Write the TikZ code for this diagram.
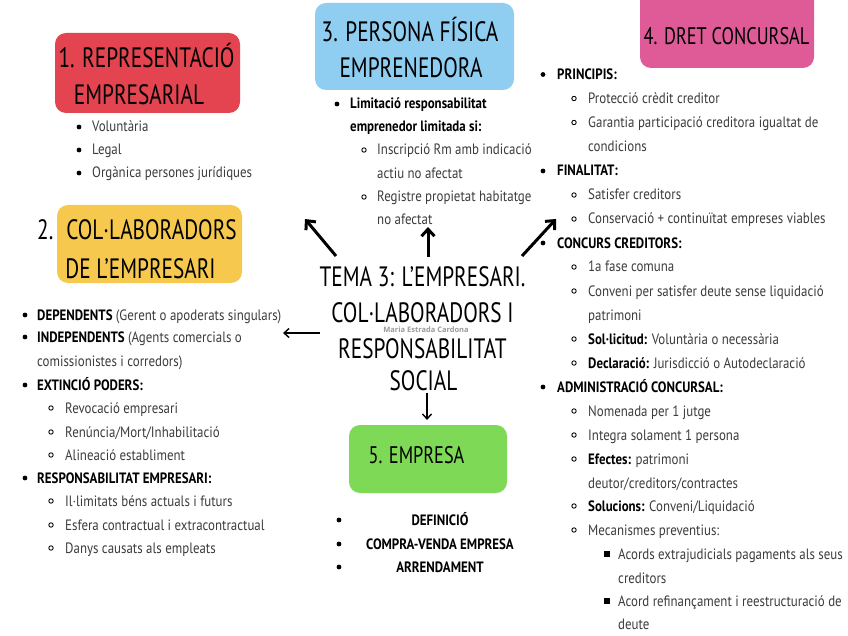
\documentclass[tikz,border=0pt]{standalone}
\usepackage{fontspec}
\setmainfont{PT Sans}[FakeStretch=0.86]
\newfontfamily\headfont{PT Sans}[FakeStretch=0.76]
\newfontfamily\markfont{Open Sans}
\usetikzlibrary{arrows.meta}
\definecolor{boxred}{HTML}{E3444F}
\definecolor{boxblue}{HTML}{8FCDF1}
\definecolor{boxpink}{HTML}{DE5B97}
\definecolor{boxyellow}{HTML}{F6C94E}
\definecolor{boxgreen}{HTML}{7ED957}
\definecolor{bodygray}{HTML}{3C3C3C}
\definecolor{markgray}{HTML}{9A9A9A}
\tikzset{
  body/.style={anchor=base west, inner sep=0pt, text=bodygray, font=\fontsize{15}{18}\selectfont},
  bold/.style={anchor=base west, inner sep=0pt, text=black, font=\bfseries\fontsize{15}{18}\selectfont},
  centeritem/.style={anchor=base, inner sep=0pt, text=black, font=\bfseries\fontsize{15}{18}\selectfont},
  hdbig/.style={anchor=base, inner sep=0pt, text=black, font=\headfont\fontsize{28}{30}\selectfont},
  hdsmall/.style={anchor=base, inner sep=0pt, text=black, font=\headfont\fontsize{24}{26}\selectfont},
  colbox/.style={rounded corners=11pt},
  bigarrow/.style={line width=3pt, -{Straight Barb[length=7pt,width=13pt,line width=3pt]}},
  smallarrow/.style={line width=1.4pt, -{Straight Barb[length=5pt,width=9pt,line width=1.4pt]}},
}
\newcommand\BulA[2]{\fill[black] (#1,#2-5) circle (2.4pt);}
\newcommand\BulB[2]{\draw[black, line width=0.9pt] (#1,#2-5) circle (2.2pt);}
\newcommand\BulC[2]{\fill[black] (#1-2.6,#2-7.6) rectangle (#1+2.6,#2-2.4);}
\newcommand\TL[4]{\node[body] (#1) at (#2,#3) {#4};}
\newcommand\TB[4]{\node[bold] (#1) at (#2,#3) {#4};}
\begin{document}
\begin{tikzpicture}[x=1pt,y=-1pt]
\useasboundingbox (0,0) rectangle (848,636);
\fill[white] (0,0) rectangle (848,636);

% coloured boxes
\fill[boxred, colbox] (55,33) rectangle (240,113);
\fill[boxblue, colbox] (315,3) rectangle (514,90);
\fill[boxpink, colbox] (640,-12) rectangle (814,68);
\fill[boxyellow, colbox] (57,205) rectangle (242,283);
\fill[boxgreen, colbox] (349,425) rectangle (507,493);

% headings
\node[hdbig] (h1a) at (146.5,68) {1. REPRESENTACIÓ};
\node[hdbig] (h1b) at (139,105) {EMPRESARIAL};
\node[hdbig] (h3a) at (410,42) {3. PERSONA FÍSICA};
\node[hdbig] (h3b) at (411,78) {EMPRENEDORA};
\node[hdsmall] (h4) at (726.5,45) {4. DRET CONCURSAL};
\node[hdbig, anchor=base west] (h2n) at (37,240) {2.};
\node[hdbig] (h2a) at (151.5,240) {COL·LABORADORS};
\node[hdbig] (h2b) at (140.5,278) {DE L’EMPRESARI};
\node[hdsmall] (h5) at (416.5,463) {5. EMPRESA};

% central title
\node[hdbig] (c1) at (422.5,287) {TEMA 3: L’EMPRESARI.};
\node[hdbig] (c2) at (422.5,322) {COL·LABORADORS I};
\node[anchor=base, inner sep=0pt, text=markgray, font=\markfont\bfseries\fontsize{7.5}{8}\selectfont] (mark) at (426,332.5) {Maria Estrada Cardona};
\node[hdbig] (c3) at (422.5,358) {RESPONSABILITAT};
\node[hdbig] (c4) at (423.5,390) {SOCIAL};

% arrows
\coordinate (aulS) at (336,256); \coordinate (aulE) at (305,219);
\coordinate (aupS) at (428,257); \coordinate (aupE) at (428,227);
\coordinate (aurS) at (522,256); \coordinate (aurE) at (556,219);
\coordinate (alfS) at (320,333); \coordinate (alfE) at (283,333);
\coordinate (adnS) at (427,393); \coordinate (adnE) at (427,420);
\draw[bigarrow] (aulS) -- (aulE);
\draw[bigarrow] (aupS) -- (aupE);
\draw[bigarrow] (aurS) -- (aurE);
\draw[smallarrow] (alfS) -- (alfE);
\draw[smallarrow] (adnS) -- (adnE);

% list 1
\BulA{79}{132} \TL{r1}{92}{132}{Voluntària}
\BulA{79}{155} \TL{r2}{92}{155}{Legal}
\BulA{79}{178} \TL{r3}{92}{178}{Orgànica persones jurídiques}

% list 3
\BulA{337}{109} \TB{p1}{350}{109}{Limitació responsabilitat}
\TB{p2}{350}{132}{emprenedor limitada si:}
\BulB{364}{155} \TL{p3}{377}{155}{Inscripció Rm amb indicació}
\TL{p4}{377}{179}{actiu no afectat}
\BulB{364}{202} \TL{p5}{377}{202}{Registre propietat habitatge}
\TL{p6}{377}{225}{no afectat}

% list 2
\BulA{25}{320} \node[bold] (k1) at (37,320) {DEPENDENTS \mdseries\color{bodygray}(Gerent o apoderats singulars)};
\BulA{25}{342} \node[bold] (k2) at (37,342) {INDEPENDENTS \mdseries\color{bodygray}(Agents comercials o};
\TL{k3}{37}{366}{comissionistes i corredors)}
\BulA{25}{390} \TB{k4}{37}{390}{EXTINCIÓ PODERS:}
\BulB{51}{413} \TL{k5}{65}{413}{Revocació empresari}
\BulB{51}{437} \TL{k6}{65}{437}{Renúncia/Mort/Inhabilitació}
\BulB{51}{460} \TL{k7}{65}{460}{Alineació establiment}
\BulA{25}{483} \TB{k8}{37}{483}{RESPONSABILITAT EMPRESARI:}
\BulB{51}{506} \TL{k9}{65}{506}{Il·limitats béns actuals i futurs}
\BulB{51}{530} \TL{k10}{65}{530}{Esfera contractual i extracontractual}
\BulB{51}{553} \TL{k11}{65}{553}{Danys causats als empleats}

% list 5
\BulA{339}{525} \node[centeritem] (e1) at (440,525) {DEFINICIÓ};
\BulA{339}{549} \node[centeritem] (e2) at (440,549) {COMPRA-VENDA EMPRESA};
\BulA{339}{572} \node[centeritem] (e3) at (440,572) {ARRENDAMENT};

% list 4
\BulA{543}{79.5} \TB{d1}{557}{79.5}{PRINCIPIS:}
\BulB{574}{103.5} \TL{d2}{588}{103.5}{Protecció crèdit creditor}
\BulB{574}{127.5} \TL{d3}{588}{127.5}{Garantia participació creditora igualtat de}
\TL{d4}{588}{151.5}{condicions}
\BulA{543}{176} \TB{d5}{557}{176}{FINALITAT:}
\BulB{574}{200} \TL{d6}{588}{200}{Satisfer creditors}
\BulB{574}{224} \TL{d7}{588}{224}{Conservació + continuïtat empreses viables}
\BulA{543}{248} \TB{d8}{557}{248}{CONCURS CREDITORS:}
\BulB{574}{272} \TL{d9}{588}{272}{1a fase comuna}
\BulB{574}{296} \TL{d10}{588}{296}{Conveni per satisfer deute sense liquidació}
\TL{d11}{588}{320}{patrimoni}
\BulB{574}{344} \node[body] (d12) at (588,344) {{\bfseries\color{black}Sol·licitud:} Voluntària o necessària};
\BulB{574}{368} \node[body] (d13) at (588,368) {{\bfseries\color{black}Declaració:} Jurisdicció o Autodeclaració};
\BulA{543}{392} \TB{d14}{557}{392}{ADMINISTRACIÓ CONCURSAL:}
\BulB{574}{416} \TL{d15}{588}{416}{Nomenada per 1 jutge}
\BulB{574}{440} \TL{d16}{588}{440}{Integra solament 1 persona}
\BulB{574}{464} \node[body] (d17) at (588,464) {{\bfseries\color{black}Efectes:} patrimoni};
\TL{d18}{588}{488}{deutor/creditors/contractes}
\BulB{574}{511} \node[body] (d19) at (588,511) {{\bfseries\color{black}Solucions:} Conveni/Liquidació};
\BulB{574}{535} \TL{d20}{588}{535}{Mecanismes preventius:}
\BulC{607}{559} \TL{d21}{618}{559}{Acords extrajudicials pagaments als seus}
\TL{d22}{618}{583}{creditors}
\BulC{607}{606} \TL{d23}{618}{606}{Acord refinançament i reestructuració de}
\TL{d24}{618}{629}{deute}
\end{tikzpicture}
\end{document}
